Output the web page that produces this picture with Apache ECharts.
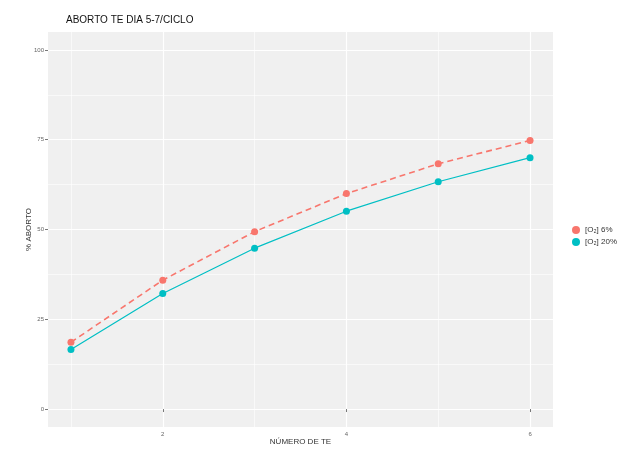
<!DOCTYPE html>
<html><head><meta charset="utf-8">
<script src="https://cdn.jsdelivr.net/npm/echarts@6/dist/echarts.min.js"></script>
<style>html,body{margin:0;padding:0;background:#fff}#c{width:630px;height:452px}</style>
</head><body><div id="c"></div>
<script>
const xValues = [1, 2, 3, 4, 5, 6];
const o2_6 = [18.6, 35.9, 49.4, 60.0, 68.3, 74.8];
const o2_20 = [16.6, 32.2, 44.8, 55.1, 63.3, 70.0];
const xTicks = [2, 4, 6];
const xMinor = [1, 3, 5];
const yTicks = [0, 25, 50, 75, 100];
const yMinor = [12.5, 37.5, 62.5, 87.5];
const seriesNames = ['[O\u2082] 6%', '[O\u2082] 20%'];
const colors = ['#F8766D', '#00BFC4'];

const font = 'Liberation Sans';
const chart = echarts.init(document.getElementById('c'));

const gridLines = [];
xTicks.forEach(v => gridLines.push({xAxis: v, lineStyle: {color: '#fff', width: 1.2, type: 'solid'}}));
xMinor.forEach(v => gridLines.push({xAxis: v, lineStyle: {color: '#fff', width: 0.6, type: 'solid'}}));
yTicks.forEach(v => gridLines.push({yAxis: v, lineStyle: {color: '#fff', width: 1.2, type: 'solid'}}));
yMinor.forEach(v => gridLines.push({yAxis: v, lineStyle: {color: '#fff', width: 0.6, type: 'solid'}}));

chart.setOption({
  animation: false,
  textStyle: {fontFamily: font},
  title: {
    text: 'ABORTO TE DIA 5-7/CICLO',
    left: 61, top: 10,
    textStyle: {fontFamily: font, fontSize: 10, fontWeight: 'normal', color: '#111'}
  },
  legend: {
    orient: 'vertical', left: 567, top: 221, itemGap: 4,
    itemWidth: 8, itemHeight: 8, icon: 'circle',
    data: seriesNames,
    textStyle: {fontFamily: font, fontSize: 8, color: '#333', padding: [0, 0, 0, 0]}
  },
  grid: {left: 48, right: 77, top: 32, bottom: 25, show: true, backgroundColor: '#F0F0F0', borderWidth: 0},
  xAxis: {
    type: 'value', min: 0.75, max: 6.25,
    name: 'NÚMERO DE TE', nameLocation: 'middle', nameGap: 11, nameMoveOverlap: false,
    nameTextStyle: {fontFamily: font, fontSize: 8, color: '#333'},
    axisLine: {show: false},
    axisTick: {show: true, length: 3, customValues: xTicks, lineStyle: {color: '#555', width: 0.8}},
    axisLabel: {customValues: xTicks, fontSize: 6, color: '#666', margin: 4},
    splitLine: {show: false}
  },
  yAxis: {
    type: 'value', min: -5, max: 105,
    name: '% ABORTO', nameLocation: 'middle', nameGap: 15, nameRotate: 90, nameMoveOverlap: false,
    nameTextStyle: {fontFamily: font, fontSize: 8, color: '#333'},
    axisLine: {show: false},
    axisTick: {show: true, length: 3, customValues: yTicks, lineStyle: {color: '#555', width: 0.8}},
    axisLabel: {customValues: yTicks, fontSize: 6, color: '#666', margin: 4},
    splitLine: {show: false}
  },
  series: [
    {
      type: 'line', name: '__grid', data: [], silent: true, z: 0, zlevel: 0,
      markLine: {silent: true, symbol: 'none', label: {show: false}, animation: false, z: 0, data: gridLines}
    },
    {
      type: 'line', name: seriesNames[0], z: 5,
      data: xValues.map((x, i) => [x, o2_6[i]]),
      symbol: 'circle', symbolSize: 7,
      itemStyle: {color: colors[0]},
      lineStyle: {color: colors[0], width: 1.6, type: [6, 4]}
    },
    {
      type: 'line', name: seriesNames[1], z: 6,
      data: xValues.map((x, i) => [x, o2_20[i]]),
      symbol: 'circle', symbolSize: 7,
      itemStyle: {color: colors[1]},
      lineStyle: {color: colors[1], width: 1.2}
    }
  ]
});
</script></body></html>
